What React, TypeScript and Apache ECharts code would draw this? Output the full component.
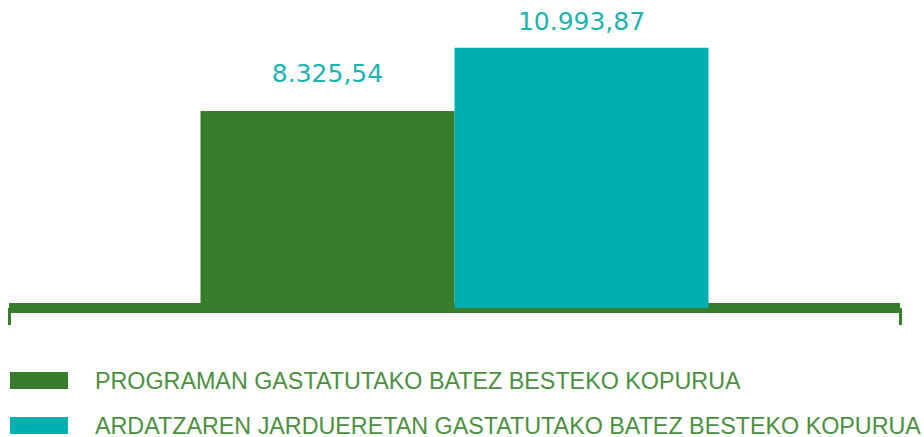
import React, { useEffect, useRef } from "react";
import * as echarts from "echarts";

const categories = [""];
const seriesNames = [
  "PROGRAMAN GASTATUTAKO BATEZ BESTEKO KOPURUA",
  "ARDATZAREN JARDUERETAN GASTATUTAKO BATEZ BESTEKO KOPURUA",
];
const programValues = [8325.54];
const axisValues = [10993.87];

const GREEN = "#387c2d";
const TEAL = "#00b0ae";
const LABEL = "#1bb3b0";
const LEGEND_TEXT = "#4a8f3f";

const fmt = (v: number) => {
  const [i, d] = v.toFixed(2).split(".");
  return i.replace(/\B(?=(\d{3})+(?!\d))/g, ".") + "," + d;
};

export default function App() {
  const ref = useRef<HTMLDivElement>(null);
  useEffect(() => {
    const chart = echarts.init(ref.current!, null, { renderer: "svg" });
    const labelBase = {
      show: true,
      position: "top" as const,
      color: LABEL,
      fontFamily: "DejaVu Sans",
      fontSize: 25,
      formatter: (p: any) => fmt(p.value),
    };
    const legendBase = {
      orient: "vertical",
      left: 10,
      padding: 0,
      itemWidth: 58,
      itemHeight: 17,
      icon: "rect",
      selectedMode: false,
      textStyle: {
        color: LEGEND_TEXT,
        fontFamily: "Liberation Sans",
        fontSize: 23.3,
        padding: [0, 0, 2, 22],
      },
    };
    chart.setOption({
      animation: false,
      backgroundColor: "#ffffff",
      grid: { left: 9, right: 24, top: 24, bottom: 129 },
      legend: [
        { ...legendBase, top: 369, data: [seriesNames[0]] },
        { ...legendBase, top: 414, data: [seriesNames[1]] },
      ],
      xAxis: {
        type: "category",
        data: categories,
        boundaryGap: true,
        axisLine: { show: true, lineStyle: { color: GREEN, width: 10, cap: "butt" } },
        axisTick: { show: true, length: 17, lineStyle: { color: GREEN, width: 3 } },
        axisLabel: { show: false },
        splitLine: { show: false },
      },
      yAxis: {
        type: "value",
        min: 0,
        max: 12000,
        show: false,
        splitLine: { show: false },
      },
      series: [
        {
          name: seriesNames[0],
          type: "bar",
          data: programValues,
          barWidth: 254,
          barGap: "0%",
          itemStyle: { color: GREEN },
          label: { ...labelBase, distance: 25 },
          z: 1,
        },
        {
          name: seriesNames[1],
          type: "bar",
          data: axisValues,
          barWidth: 254,
          barGap: "0%",
          itemStyle: { color: TEAL },
          label: { ...labelBase, distance: 14 },
          z: 1,
        },
      ],
    });
    return () => chart.dispose();
  }, []);
  return (
    <div
      ref={ref}
      style={{ position: "fixed", left: 0, top: 0, width: 924, height: 437 }}
    />
  );
}
